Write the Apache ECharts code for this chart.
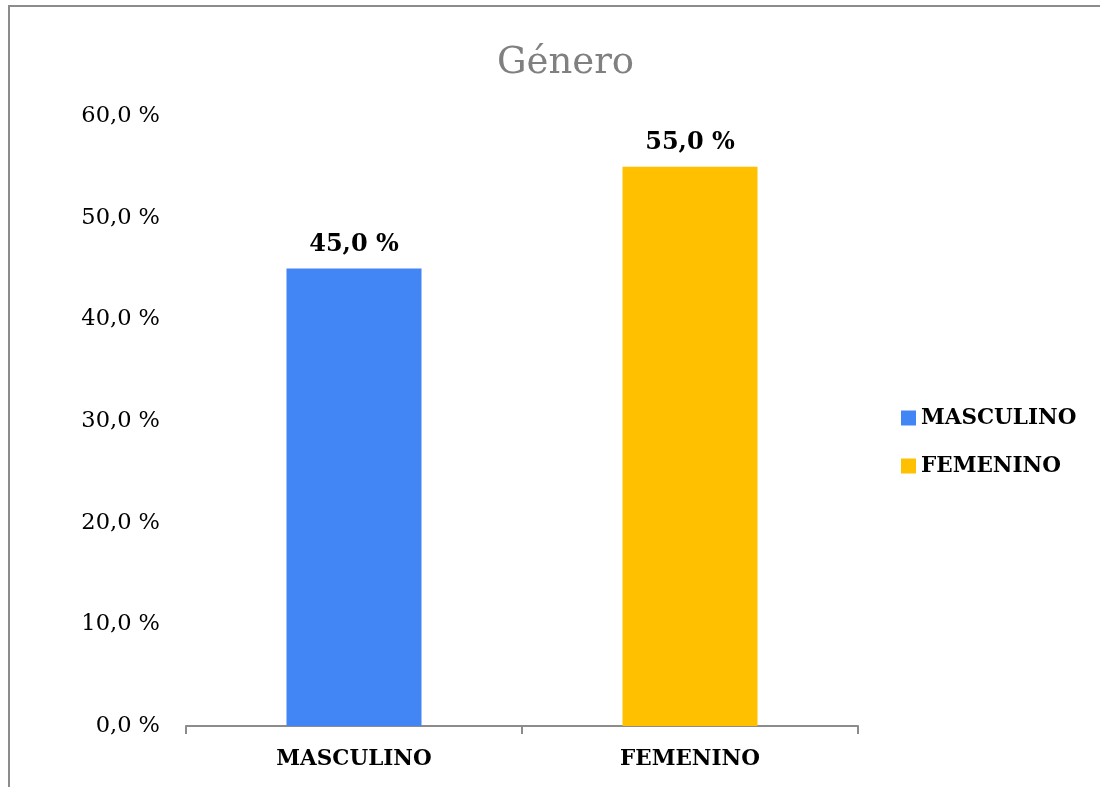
<!DOCTYPE html>
<html>
<head>
<meta charset="utf-8">
<script src="https://cdn.jsdelivr.net/npm/echarts@6/dist/echarts.min.js"></script>
<style>
html,body{margin:0;padding:0;background:#fff;}
#frame{position:absolute;left:8px;top:5px;width:1092px;height:782px;border-top:2px solid #8c8c8c;border-left:2px solid #8c8c8c;}
#main{position:absolute;left:0;top:0;width:1100px;height:787px;}
</style>
</head>
<body>
<div id="frame"></div>
<div id="main"></div>
<script>
var categories = ['MASCULINO', 'FEMENINO'];
var seriesNames = ['MASCULINO', 'FEMENINO'];
var values = [45.0, 55.0];
var colors = ['#4285F4', '#FFC000'];
var yTicks = [0, 10, 20, 30, 40, 50, 60];

var serif = 'DejaVu Serif';

function pct(v) {
	return v.toFixed(1).replace('.', ',') + ' %';
}

var myChart = echarts.init(document.getElementById('main'));

var series = seriesNames.map(function (name, i) {
	var d = categories.map(function (c, j) { return j === i ? values[j] : null; });
	return {
		name: name,
		type: 'bar',
		data: d,
		barWidth: 135,
		barGap: '-100%',
		itemStyle: { color: colors[i] },
		label: {
			show: true,
			position: 'top',
			distance: 12,
			formatter: function (p) { return pct(p.value); },
			color: '#000',
			fontFamily: serif,
			fontWeight: 'bold',
			fontSize: 24
		}
	};
});

var option = {
	animation: false,
	backgroundColor: 'transparent',
	title: {
		text: 'Género',
		left: 492,
		top: 40,
		textStyle: {
			color: '#808080',
			fontFamily: serif,
			fontWeight: 'normal',
			fontSize: 37
		}
	},
	legend: {
		orient: 'vertical',
		left: 896,
		top: 402,
		itemWidth: 15,
		itemHeight: 15,
		itemGap: 26,
		icon: 'rect',
		textStyle: {
			color: '#000',
			fontFamily: serif,
			fontWeight: 'bold',
			fontSize: 21.5
		},
		data: seriesNames
	},
	grid: {
		left: 186,
		right: 242,
		top: 116,
		bottom: 61
	},
	xAxis: {
		type: 'category',
		data: categories,
		axisLine: { lineStyle: { color: '#8c8c8c', width: 2 } },
		axisTick: { show: true, length: 8, lineStyle: { color: '#8c8c8c', width: 2 } },
		axisLabel: {
			color: '#000',
			fontFamily: serif,
			fontWeight: 'bold',
			fontSize: 21.5,
			margin: 22
		}
	},
	yAxis: {
		type: 'value',
		min: yTicks[0],
		max: yTicks[yTicks.length - 1],
		interval: 10,
		splitLine: { show: false },
		axisLine: { show: false },
		axisTick: { show: false },
		axisLabel: {
			formatter: function (v) { return pct(v); },
			color: '#000',
			fontFamily: serif,
			fontSize: 22.5,
			margin: 26
		}
	},
	series: series
};

myChart.setOption(option);
</script>
</body>
</html>
